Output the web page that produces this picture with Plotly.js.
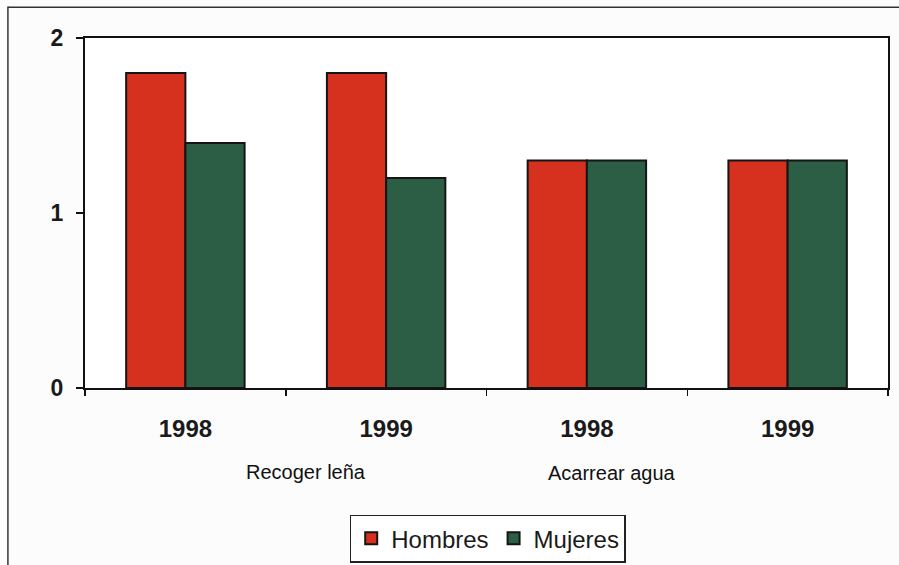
<!DOCTYPE html>
<html>
<head>
<meta charset="utf-8">
<script src="https://cdn.plot.ly/plotly-3.0.1.min.js"></script>
<style>
html,body{margin:0;padding:0;background:#fcfcfc;}
#chart{width:899px;height:565px;}
</style>
</head>
<body>
<div id="chart"></div>
<script>
// Data
const categories = ["A1998", "A1999", "B1998", "B1999"];
const tickLabels = ["1998", "1999", "1998", "1999"];
const groupLabels = ["Recoger leña", "Acarrear agua"];
const seriesNames = ["Hombres", "Mujeres"];
const hombres = [1.8, 1.8, 1.3, 1.3];
const mujeres = [1.4, 1.2, 1.3, 1.3];

const red = "#d6311f";
const green = "#2c5d45";

const traces = [
  {type: "bar", name: seriesNames[0], x: categories, y: hombres,
   marker: {color: red, line: {color: "#151515", width: 2}}},
  {type: "bar", name: seriesNames[1], x: categories, y: mujeres,
   marker: {color: green, line: {color: "#151515", width: 2}}}
];

const layout = {
  width: 899, height: 565,
  margin: {l: 85, r: 11, t: 38, b: 177, autoexpand: false},
  paper_bgcolor: "#fcfcfc",
  plot_bgcolor: "#ffffff",
  font: {family: "Liberation Sans, Arial, sans-serif", color: "#1a1a1a"},
  barmode: "group",
  bargap: 0.41,
  bargroupgap: 0,
  showlegend: true,
  legend: {
    orientation: "h",
    xref: "container", yref: "container",
    x: 0.389, xanchor: "left",
    y: 0.089, yanchor: "top",
    bgcolor: "#ffffff",
    bordercolor: "#222", borderwidth: 1.5,
    font: {size: 24, color: "#1a1a1a"},
    itemwidth: 30,
    tracegroupgap: 0,
    traceorder: "normal"
  },
  xaxis: {
    type: "category",
    tickmode: "array",
    tickvals: categories,
    ticktext: tickLabels,
    tickson: "boundaries",
    ticks: "outside", ticklen: 6, tickwidth: 1.5, tickcolor: "#111",
    ticklabelstandoff: 18,
    tickfont: {size: 24, color: "#1a1a1a", weight: "bold"},
    showline: true, linecolor: "#111", linewidth: 2, mirror: true,
    showgrid: false, zeroline: false, fixedrange: true
  },
  yaxis: {
    range: [0, 2],
    tickvals: [0, 1, 2],
    ticktext: ["0", "1", "2"],
    ticks: "outside", ticklen: 7, tickwidth: 1.5, tickcolor: "#111",
    ticklabelstandoff: 8,
    tickfont: {size: 23, color: "#1a1a1a", weight: "bold"},
    showline: true, linecolor: "#111", linewidth: 2, mirror: true,
    showgrid: false, zeroline: false, fixedrange: true
  },
  annotations: [
    {text: groupLabels[0], xref: "paper", yref: "paper", x: 0.275, y: -0.24,
     xanchor: "center", yanchor: "middle", showarrow: false,
     font: {size: 20, color: "#111"}},
    {text: groupLabels[1], xref: "paper", yref: "paper", x: 0.656, y: -0.243,
     xanchor: "center", yanchor: "middle", showarrow: false,
     font: {size: 20, color: "#111"}}
  ],
  shapes: [
    {type: "line", xref: "paper", yref: "paper", x0: -0.096, x1: -0.096, y0: 1.09, y1: -0.52,
     line: {color: "#333", width: 1.5}},
    {type: "line", xref: "paper", yref: "paper", x0: -0.096, x1: 1.02, y0: 1.088, y1: 1.088,
     line: {color: "#333", width: 1.5}}
  ]
};

Plotly.newPlot("chart", traces, layout, {displayModeBar: false, staticPlot: true});
</script>
</body>
</html>
